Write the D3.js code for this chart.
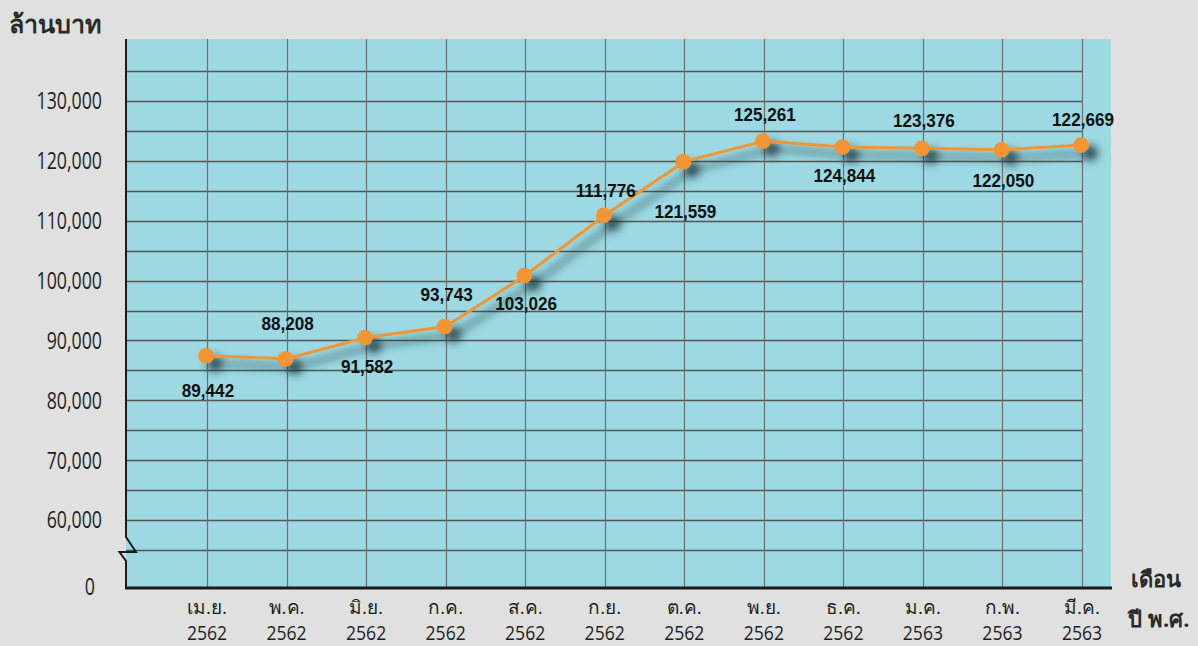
<!DOCTYPE html>
<html>
<head>
<meta charset="utf-8">
<script src="https://cdn.jsdelivr.net/npm/d3@7"></script>
<style>
  body { margin: 0; background: #e0e0e0; }
  svg { display: block; }
</style>
</head>
<body>
<div id="chart"></div>
<script>
// Monthly values (million baht), Apr 2562 - Mar 2563

const months = ['เม.ย.', 'พ.ค.', 'มิ.ย.', 'ก.ค.', 'ส.ค.', 'ก.ย.', 'ต.ค.', 'พ.ย.', 'ธ.ค.', 'ม.ค.', 'ก.พ.', 'มี.ค.'];
const years = ['2562', '2562', '2562', '2562', '2562', '2562', '2562', '2562', '2562', '2563', '2563', '2563'];

// printed figures
const labelValues = [89442, 88208, 91582, 93743, 103026, 111776, 121559, 125261, 124844, 123376, 122050, 122669];
// heights the points are drawn at
const plotted = [87430, 86930, 90500, 92320, 100840, 110920, 119870, 123320, 122320, 122100, 121870, 122650];

const yTicks = [60000, 70000, 80000, 90000, 100000, 110000, 120000, 130000];
const gridValues = d3.range(55000, 135001, 5000);

const W = 1198, H = 646;
const plot = { left: 126, right: 1111, top: 39, bottom: 588 };

const svg = d3.select('#chart')
    .append('svg')
    .attr('width', W)
    .attr('height', H);

const defs = svg.append('defs');
const shadow = defs.append('filter')
    .attr('id', 'shadow')
    .attr('x', '-10%').attr('y', '-30%')
    .attr('width', '130%').attr('height', '180%');
shadow.append('feDropShadow')
    .attr('dx', 9).attr('dy', 8)
    .attr('stdDeviation', 4)
    .attr('flood-color', '#16333a')
    .attr('flood-opacity', 0.85);

const x = d3.scalePoint()
    .domain(d3.range(months.length))
    .range([207, 1082]);

const y = d3.scaleLinear()
    .domain([60000, 130000])
    .range([520, 101]);

// plot background
svg.append('rect')
    .attr('x', plot.left)
    .attr('y', plot.top)
    .attr('width', plot.right - plot.left)
    .attr('height', plot.bottom - plot.top)
    .attr('fill', '#9cd9e3');

// grid
const grid = svg.append('g');

grid.selectAll('.hgrid')
    .data(gridValues)
    .join('line')
    .classed('hgrid', true)
    .attr('x1', plot.left)
    .attr('x2', x(11))
    .attr('y1', d => Math.round(y(d)) + 0.5)
    .attr('y2', d => Math.round(y(d)) + 0.5)
    .attr('stroke', '#555')
    .attr('stroke-width', 1.3);

grid.selectAll('.vgrid')
    .data(d3.range(months.length))
    .join('line')
    .classed('vgrid', true)
    .attr('x1', d => Math.round(x(d)) + 0.5)
    .attr('x2', d => Math.round(x(d)) + 0.5)
    .attr('y1', plot.top)
    .attr('y2', plot.bottom)
    .attr('stroke', '#6e6e6e')
    .attr('stroke-width', 1.2);

// left axis with break
svg.append('path')
    .attr('d', `M${plot.left},${plot.top} L${plot.left},537 L136,552 L119.5,552 L${plot.left},561 L${plot.left},${plot.bottom}`)
    .attr('fill', 'none')
    .attr('stroke', '#1a1a1a')
    .attr('stroke-width', 2);

// bottom axis
svg.append('line')
    .attr('x1', plot.left - 1)
    .attr('x2', plot.right + 1)
    .attr('y1', plot.bottom)
    .attr('y2', plot.bottom)
    .attr('stroke', '#1a1a1a')
    .attr('stroke-width', 3);

// y tick labels
const numFont = "'Open Sans', 'Noto Sans', sans-serif";

svg.append('g')
    .selectAll('g')
    .data(yTicks)
    .join('g')
    .attr('transform', d => `translate(102,${y(d)}) scale(0.74,1)`)
    .append('text')
    .attr('text-anchor', 'end')
    .attr('dy', '0.35em')
    .attr('font-family', numFont)
    .attr('font-size', 24)
    .attr('fill', '#1f1f1f')
    .text(d => d3.format(',')(d));

svg.append('g')
    .attr('transform', `translate(95,587) scale(0.74,1)`)
    .append('text')
    .attr('text-anchor', 'end')
    .attr('dy', '0.35em')
    .attr('font-family', numFont)
    .attr('font-size', 24)
    .attr('fill', '#1f1f1f')
    .text('0');

// x tick labels
const xLab = svg.append('g')
    .selectAll('g')
    .data(d3.range(months.length))
    .join('g')
    .attr('transform', d => `translate(${x(d)},0)`);

xLab.append('text')
    .attr('text-anchor', 'middle')
    .attr('y', 614)
    .attr('font-family', numFont)
    .attr('font-size', 19)
    .attr('fill', '#1f1f1f')
    .text(d => months[d]);

xLab.append('g')
    .attr('transform', 'translate(0,640) scale(0.88,1)')
    .append('text')
    .attr('text-anchor', 'middle')
    .attr('font-family', numFont)
    .attr('font-size', 20)
    .attr('fill', '#1f1f1f')
    .text(d => years[d]);

// axis titles
svg.append('text')
    .attr('x', 9)
    .attr('y', 33)
    .attr('font-family', numFont)
    .attr('font-size', 25)
    .attr('font-weight', 'bold')
    .attr('fill', '#2a2a2a')
    .text('ล้านบาท');

svg.append('text')
    .attr('x', 1156)
    .attr('y', 587)
    .attr('text-anchor', 'middle')
    .attr('font-family', numFont)
    .attr('font-size', 22)
    .attr('font-weight', 'bold')
    .attr('fill', '#2a2a2a')
    .text('เดือน');

svg.append('text')
    .attr('x', 1159)
    .attr('y', 627)
    .attr('text-anchor', 'middle')
    .attr('font-family', numFont)
    .attr('font-size', 22)
    .attr('font-weight', 'bold')
    .attr('fill', '#2a2a2a')
    .text('ปี พ.ศ.');

// line + points with drop shadow
const series = svg.append('g').attr('filter', 'url(#shadow)');

series.append('path')
    .datum(plotted)
    .attr('d', d3.line().x((d, i) => x(i)).y(d => y(d)))
    .attr('fill', 'none')
    .attr('stroke', '#f39530')
    .attr('stroke-width', 3);

series.selectAll('circle')
    .data(plotted)
    .join('circle')
    .attr('cx', (d, i) => x(i) - 1)
    .attr('cy', d => y(d))
    .attr('r', 7.8)
    .attr('fill', '#f39530');

// value labels (baseline offset from the point)
const labelDy = [41, -29, 36, -26, 34, -18, 56, -20, 35, -21, 37, -19];

svg.append('g')
    .selectAll('g')
    .data(labelValues)
    .join('g')
    .attr('transform', (d, i) => `translate(${x(i) + 1},${y(plotted[i]) + labelDy[i]}) scale(0.9,1)`)
    .append('text')
    .attr('text-anchor', 'middle')
    .attr('font-family', "'Liberation Sans', Arial, sans-serif")
    .attr('font-size', 19)
    .attr('font-weight', 'bold')
    .attr('fill', '#111')
    .text(d => d3.format(',')(d));
</script>
</body>
</html>
